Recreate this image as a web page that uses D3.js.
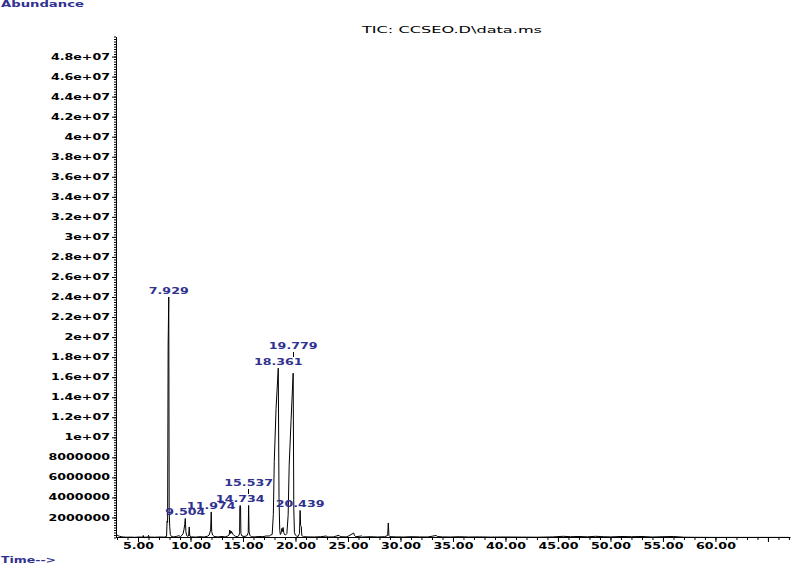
<!DOCTYPE html>
<html><head><meta charset="utf-8">
<script src="https://cdn.jsdelivr.net/npm/d3@7"></script>
<style>html,body{margin:0;padding:0;background:#fff;overflow:hidden}svg{display:block}</style>
</head><body>
<script>
// ---- data ----
const retentionTimes = [
  3.00,3.10,3.25,3.40,3.60,3.90,4.30,4.70,5.10,5.45,5.50,5.55,5.95,6.00,6.05,6.60,7.10,7.50,
  7.72,7.77,7.82,7.87,7.929,7.97,8.02,8.08,8.18,8.40,8.70,8.90,9.05,9.20,9.30,9.38,9.45,9.504,
  9.56,9.62,9.70,9.82,9.88,9.93,10.10,10.50,10.90,11.30,11.60,11.78,11.86,11.92,11.974,12.02,
  12.10,12.25,12.60,13.00,13.30,13.55,13.68,13.74,13.80,13.86,13.92,13.98,14.06,14.15,14.28,
  14.45,14.62,14.68,14.70,14.734,14.77,14.80,14.90,15.10,15.35,15.45,15.50,15.537,15.58,15.66,
  15.80,16.10,16.50,16.90,17.20,17.50,17.65,17.78,17.89,17.98,18.15,18.361,18.43,18.50,18.56,
  18.62,18.70,18.76,18.82,18.88,18.95,19.05,19.18,19.30,19.40,19.58,19.779,19.84,19.90,19.98,
  20.10,20.25,20.38,20.439,20.49,20.55,20.60,20.75,21.20,21.80,22.40,22.97,23.05,23.60,24.15,
  24.25,24.90,25.55,25.62,25.75,26.30,26.40,27.10,27.80,28.50,28.78,28.84,28.90,29.00,29.60,
  30.30,31.00,31.80,32.60,33.40,33.50,34.00,34.80,35.60,36.50,37.50,38.60,40.00,41.50,43.00,
  44.50,45.50,46.20,47.00,47.80,48.60,49.30,50.00,51.00,52.00,53.00,54.00,55.00,56.00,57.00,
  58.00,60.00,63.00,67.00
];
const abundance = [
  250000,180000,120000,80000,50000,30000,40000,20000,50000,30000,200000,30000,40000,220000,40000,30000,50000,40000,
  100000,1650000,1500000,19200000,24000000,2600000,1100000,300000,100000,60000,120000,180000,80000,250000,400000,800000,1300000,1900000,
  600000,250000,120000,150000,1050000,150000,60000,40000,80000,50000,120000,250000,550000,750000,2550000,600000,
  250000,100000,60000,100000,60000,150000,250000,750000,400000,650000,450000,500000,300000,200000,120000,
  80000,200000,500000,3100000,3200000,3050000,400000,150000,100000,150000,350000,500000,3200000,550000,200000,
  80000,60000,100000,80000,150000,150000,250000,300000,2300000,7600000,12900000,16900000,4000000,700000,300000,
  400000,900000,600000,1000000,500000,300000,250000,400000,2200000,7200000,11700000,16400000,2800000,500000,250000,
  150000,100000,400000,2700000,1200000,1100000,200000,80000,60000,50000,80000,150000,50000,60000,220000,
  80000,60000,450000,200000,80000,150000,50000,80000,50000,80000,200000,1450000,200000,80000,60000,
  50000,80000,60000,50000,200000,100000,60000,50000,80000,50000,60000,40000,50000,40000,30000,
  60000,120000,80000,100000,70000,120000,80000,60000,100000,80000,100000,50000,80000,100000,30000,
  20000,10000,10000,10000
];
const peakTimes  = [7.929, 9.504, 11.974, 14.734, 15.537, 18.361, 19.779, 20.439];
const peakLabels = ["7.929","9.504","11.974","14.734","15.537","18.361","19.779","20.439"];
const xTickValues = [5,10,15,20,25,30,35,40,45,50,55,60,65];
const xTickLabels = ["5.00","10.00","15.00","20.00","25.00","30.00","35.00","40.00","45.00","50.00","55.00","60.00",""];
const yTickValues = [2e6,4e6,6e6,8e6,1e7,1.2e7,1.4e7,1.6e7,1.8e7,2e7,2.2e7,2.4e7,2.6e7,2.8e7,3e7,3.2e7,3.4e7,3.6e7,3.8e7,4e7,4.2e7,4.4e7,4.6e7,4.8e7];
const yTickLabels = ["2000000","4000000","6000000","8000000","1e+07","1.2e+07","1.4e+07","1.6e+07","1.8e+07","2e+07","2.2e+07","2.4e+07","2.6e+07","2.8e+07","3e+07","3.2e+07","3.4e+07","3.6e+07","3.8e+07","4e+07","4.2e+07","4.4e+07","4.6e+07","4.8e+07"];
const titleText = "TIC: CCSEO.D\\data.ms";
const yAxisTitle = "Abundance";
const xAxisTitle = "Time-->";

// ---- drawing ----
const W = 791, H = 564;
const FONT = "DejaVu Sans, sans-serif";
const SX = 1.58;          // horizontal stretch of the wide bitmap-like font
const NAVY = "#31318f";

const svg = d3.select("body").append("svg").attr("width", W).attr("height", H);

const x = d3.scaleLinear().domain([3.0, 67.1]).range([117, 790]);
const y = d3.scaleLinear().domain([0, 5e7]).range([537.5, 36.5]);

function stretchText(sel, sx) {
  sel.each(function () {
    const t = d3.select(this);
    const ox = +t.attr("x") || 0;
    t.attr("x", ox / sx).attr("transform", `scale(${sx},1)`);
  });
}

// minor ticks
svg.append("g").attr("transform", "translate(0,537)")
  .call(d3.axisBottom(x).tickValues(d3.range(3, 68, 1)).tickSize(3).tickSizeOuter(0).tickFormat(""))
  .call(g => g.select(".domain").remove());
svg.append("g").attr("transform", "translate(116,0)")
  .call(d3.axisLeft(y).tickValues(d3.range(0, 5e7 + 1, 2.5e5)).tickSize(2).tickSizeOuter(0).tickFormat(""))
  .call(g => g.select(".domain").remove());

// major x axis
const gx = svg.append("g").attr("transform", "translate(0,537)")
  .call(d3.axisBottom(x).tickValues(xTickValues).tickSize(5).tickPadding(1.5).tickSizeOuter(0)
    .tickFormat((d, i) => xTickLabels[i]));
gx.selectAll("text").attr("font-family", FONT).attr("font-size", 8).attr("font-weight", "bold").attr("fill", "#000")
  .attr("transform", `scale(${SX},1)`).attr("x", 0);

// major y axis
const gy = svg.append("g").attr("transform", "translate(116,0)")
  .call(d3.axisLeft(y).tickValues(yTickValues).tickSize(4).tickPadding(2).tickSizeOuter(0)
    .tickFormat((d, i) => yTickLabels[i]));
gy.selectAll("text").attr("font-family", FONT).attr("font-size", 8).attr("font-weight", "bold").attr("fill", "#000");
stretchText(gy.selectAll("text"), SX);

// chromatogram trace
const pts = retentionTimes.map((t, i) => [t, abundance[i]]);
svg.append("path").datum(pts)
  .attr("fill", "none").attr("stroke", "#000").attr("stroke-width", 1)
  .attr("d", d3.line().x(d => x(d[0])).y(d => y(d[1])));

// peak labels with simple collision avoidance
const CAP = 6;
const placed = [];
const labelG = svg.append("g");
peakTimes.forEach((t, i) => {
  let k = 0, best = Infinity;
  retentionTimes.forEach((rt, j) => { const dd = Math.abs(rt - t); if (dd < best) { best = dd; k = j; } });
  const px = x(t), py = y(abundance[k]);
  const txt = labelG.append("text").text(peakLabels[i])
    .attr("font-family", FONT).attr("font-size", 8).attr("font-weight", "bold")
    .attr("fill", NAVY).attr("text-anchor", "middle");
  const w = txt.node().getComputedTextLength() * SX;
  let base = py - 3;
  let moved = true, guard = 0;
  while (moved && guard++ < 20) {
    moved = false;
    for (const q of placed) {
      const xo = Math.abs(px - q.x) < (w + q.w) / 2;
      const yo = (base - CAP) < q.base - 0.5 && (q.base - CAP) < base - 0.5;
      if (xo && yo) { base = q.base - CAP - 10; moved = true; }
    }
  }
  txt.attr("transform", `translate(${px},${base}) scale(${SX},1)`);
  placed.push({ x: px, w, base, py });
});
// leader lines
placed.forEach(p => {
  if (p.py - p.base > 7) {
    let y1 = p.base + 3, y2 = p.py - 1;
    placed.forEach(q => {
      if (q === p) return;
      const qt = q.base - CAP;
      if (Math.abs(p.x - q.x) < q.w / 2 && qt > y1 && qt < y2) y2 = Math.min(y2, qt - 2);
    });
    svg.append("line").attr("x1", p.x).attr("x2", p.x).attr("y1", y1).attr("y2", y2)
      .attr("stroke", "#000").attr("stroke-width", 1).attr("shape-rendering", "crispEdges");
  }
});

// titles
svg.append("text").text(titleText)
  .attr("font-family", FONT).attr("font-size", 8.5).attr("fill", "#000")
  .attr("text-anchor", "middle").attr("transform", `translate(452,33) scale(1.9,1)`);
svg.append("text").text(yAxisTitle)
  .attr("font-family", FONT).attr("font-size", 8).attr("font-weight", "bold").attr("fill", NAVY)
  .attr("transform", `translate(1,7) scale(1.65,1)`);
svg.append("text").text(xAxisTitle)
  .attr("font-family", FONT).attr("font-size", 8).attr("font-weight", "bold").attr("fill", NAVY)
  .attr("transform", `translate(1,563) scale(1.56,1)`);
</script>
</body></html>
